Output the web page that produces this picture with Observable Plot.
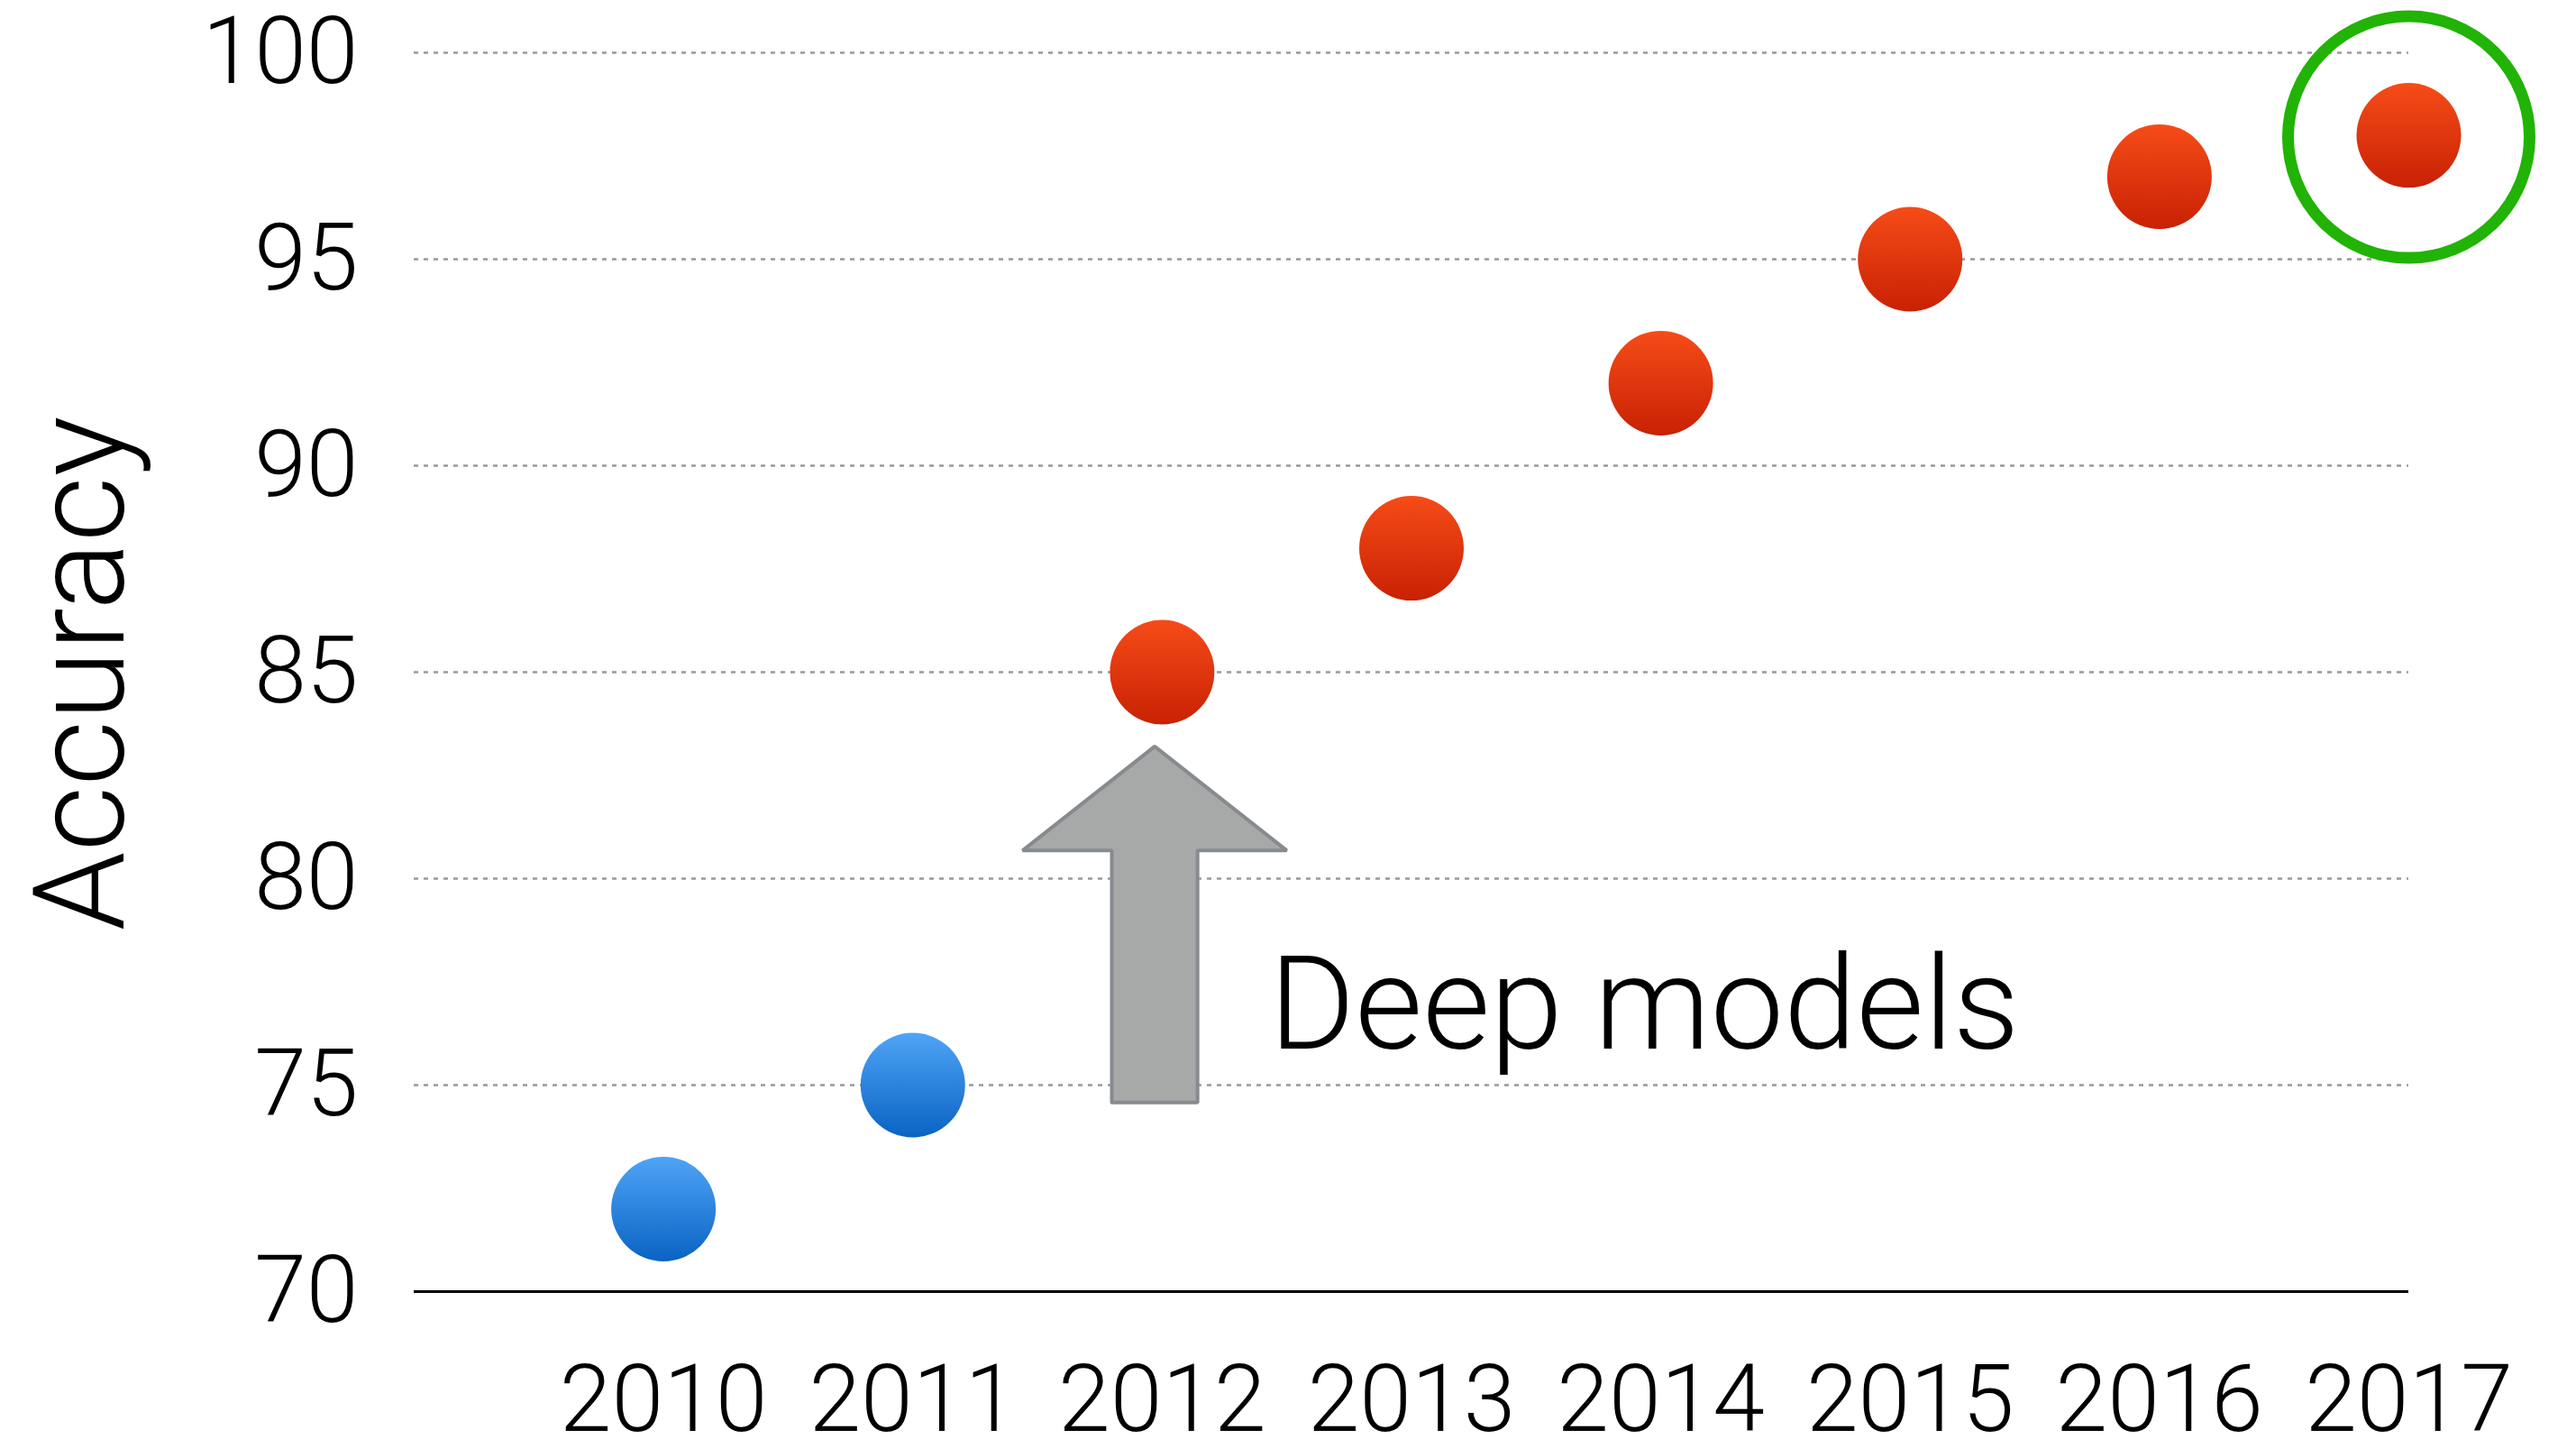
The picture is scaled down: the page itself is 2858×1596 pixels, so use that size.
<!DOCTYPE html>
<html>
<head>
<meta charset="utf-8">
<script src="https://cdn.jsdelivr.net/npm/d3@7"></script>
<script src="https://cdn.jsdelivr.net/npm/@observablehq/plot@0.6"></script>
<style>
  html, body { margin: 0; padding: 0; background: #fff; }
  #chart svg { display: block; }
</style>
</head>
<body>
<div id="chart"></div>
<script>
// ---- data ----
const years = [2010, 2011, 2012, 2013, 2014, 2015, 2016, 2017];
const accuracy = [72, 75, 85, 88, 92, 95, 97, 98];
const modelType = ["Classic", "Classic", "Deep", "Deep", "Deep", "Deep", "Deep", "Deep"];
const yTickValues = [70, 75, 80, 85, 90, 95, 100];
const gridValues = [75, 80, 85, 90, 95, 100];
const baselineValue = [70];
const highlightYear = 2017;
const annotationText = "Deep models";
const yAxisTitle = "Accuracy";

// ---- annotation geometry (data units) ----
const arrowSpec = { year: 2011.97, base: 74.58, shoulder: 80.68, tip: 83.2, shaftHalf: 0.172, headHalf: 0.53 };
const labelSpec = { year: 2012.43, value: 75.88 };

const data = years.map((year, i) => ({ year, accuracy: accuracy[i], model: modelType[i] }));
const classic = data.filter(d => d.model === "Classic");
const deep = data.filter(d => d.model === "Deep");
const highlight = data.filter(d => d.year === highlightYear);

const a = arrowSpec;
const arrowPoly = [
  [a.year - a.shaftHalf, a.base],
  [a.year - a.shaftHalf, a.shoulder],
  [a.year - a.headHalf, a.shoulder],
  [a.year, a.tip],
  [a.year + a.headHalf, a.shoulder],
  [a.year + a.shaftHalf, a.shoulder],
  [a.year + a.shaftHalf, a.base],
  [a.year - a.shaftHalf, a.base]
];

const font = "Roboto, 'Liberation Sans', Helvetica, Arial, sans-serif";

const svg = Plot.plot({
  width: 2858,
  height: 1596,
  marginLeft: 459,
  marginRight: 186,
  marginTop: 58,
  marginBottom: 164,
  style: { fontFamily: font, fontSize: "104px", fontWeight: 300, color: "#000", background: "#fff" },
  x: {
    domain: [2009, 2017],
    ticks: years,
    tickFormat: "d",
    tickSize: 0,
    tickPadding: 81,
    label: null
  },
  y: {
    domain: [70, 100],
    ticks: yTickValues,
    tickSize: 0,
    tickPadding: 62,
    label: null
  },
  marks: [
    Plot.ruleY(gridValues, { stroke: "#999", strokeWidth: 2.5, strokeDasharray: "5,6" }),
    Plot.ruleY(baselineValue, { stroke: "#000", strokeWidth: 3 }),
    Plot.line(arrowPoly, {
      x: d => d[0], y: d => d[1],
      fill: "#a6a9a8", stroke: "#878a8e", strokeWidth: 4, strokeLinejoin: "miter"
    }),
    Plot.text([annotationText], {
      x: () => labelSpec.year, y: () => labelSpec.value, text: d => d,
      textAnchor: "start", lineAnchor: "bottom", fontSize: 145, fontWeight: 300, fill: "#000"
    }),
    Plot.dot(classic, { x: "year", y: "accuracy", r: 58, fill: "url(#gradBlue)", stroke: "none" }),
    Plot.dot(deep, { x: "year", y: "accuracy", r: 58, fill: "url(#gradRed)", stroke: "none" }),
    Plot.dot(highlight, { x: "year", y: "accuracy", r: 134, fill: "none", stroke: "#21b305", strokeWidth: 13, dy: 2 })
  ]
});

const s = d3.select(svg);
const defs = s.insert("defs", ":first-child");
function grad(id, top, bottom) {
  const g = defs.append("linearGradient").attr("id", id)
    .attr("x1", 0).attr("y1", 0).attr("x2", 0).attr("y2", 1);
  g.append("stop").attr("offset", "0%").attr("stop-color", top);
  g.append("stop").attr("offset", "100%").attr("stop-color", bottom);
}
grad("gradBlue", "#4fa4f6", "#0a63c3");
grad("gradRed", "#f64c18", "#c82104");

// y axis title
s.append("text")
  .attr("transform", "translate(137,747) rotate(-90)")
  .attr("text-anchor", "middle")
  .attr("font-family", font)
  .attr("font-weight", 300)
  .attr("font-size", 141)
  .attr("fill", "#000")
  .text(yAxisTitle);

document.getElementById("chart").appendChild(svg);
</script>
</body>
</html>
